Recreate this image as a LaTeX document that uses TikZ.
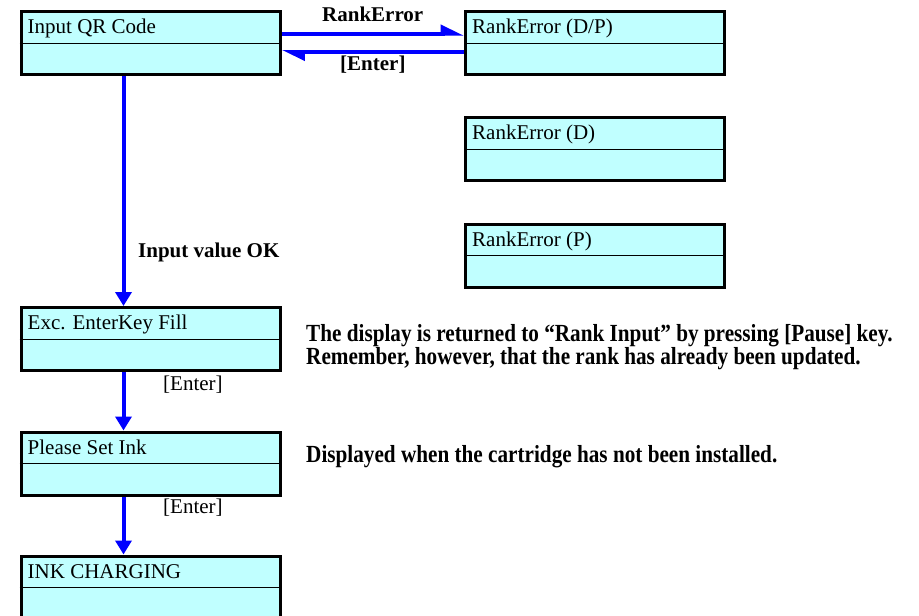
\documentclass[tikz,border=0pt]{standalone}
\usepackage{fontspec}
\setmainfont{Liberation Serif}
\usetikzlibrary{arrows.meta}
\definecolor{screenfill}{RGB}{192,255,255}
\definecolor{arrowblue}{RGB}{0,0,255}
\tikzset{
  screenbox/.style={draw=black, line width=3pt, fill=screenfill, minimum width=259pt, minimum height=63pt, inner sep=0pt, anchor=north west},
  divider/.style={line width=1pt, black},
  boxtext/.style={anchor=base west, inner sep=0pt, font=\fontsize{21}{24.5}\selectfont},
  boldlabel/.style={anchor=base west, inner sep=0pt, align=left, font=\fontsize{21}{24.5}\selectfont\bfseries},
  notetext/.style={anchor=base west, inner sep=0pt, align=left, font=\fontsize{21.2}{23.5}\selectfont\bfseries},
  plainlabel/.style={anchor=base west, inner sep=0pt, font=\fontsize{21}{24.5}\selectfont},
  flow/.style={draw=arrowblue, line width=4pt, -{Triangle[length=14pt,width=16pt,fill=arrowblue]}},
  harp/.style={draw=arrowblue, line width=4pt, -{Triangle[harpoon,length=19pt,width=17pt,fill=arrowblue]}},
}
\newcommand\screenbox[4]{%
  \node[screenbox] (#1) at (#2,#3) {};
  \draw[divider] (#1.west) -- (#1.east);
  \node[boxtext] (#1t) at ([xshift=8pt,yshift=-23.5pt]#1.north west) {#4};
}
\newcommand\tallline[1]{\scalebox{1}[1.16]{#1}}
\begin{document}
\begin{tikzpicture}[x=1pt,y=-1pt]
\useasboundingbox (0,0) rectangle (919,616);
\screenbox{qr}{19.5}{10}{Input QR Code}
\screenbox{dp}{464}{10}{RankError (D/P)}
\screenbox{rd}{464}{116}{RankError (D)}
\screenbox{rp}{464}{222.5}{RankError (P)}
\screenbox{exc}{19.5}{306}{Exc. EnterKey Fill}
\screenbox{ink}{19.5}{430.5}{Please Set Ink}
\screenbox{chg}{19.5}{554.5}{INK CHARGING}

\draw[harp] ([yshift=9.5pt]qr.east) -- ([yshift=9.5pt]dp.west);
\draw[harp] ([yshift=-9pt]dp.west) -- ([yshift=-9pt]qr.east);
\node[boldlabel] (lre) at (322,21.5) {RankError};
\node[boldlabel] (len) at (340,70) {[Enter]};

\draw[flow] ([xshift=-27pt]qr.south) -- ([xshift=-27pt]exc.north);
\draw[flow] ([xshift=-27pt]exc.south) -- ([xshift=-27pt]ink.north);
\draw[flow] ([xshift=-27pt]ink.south) -- ([xshift=-27pt]chg.north);
\node[boldlabel] (lok) at (138,257) {Input value OK};
\node[plainlabel] (le1) at (163,390) {[Enter]};
\node[plainlabel] (le2) at (163,513) {[Enter]};

\node[notetext] (n1) at (306,364.5) {\tallline{The display is returned to “Rank Input” by pressing [Pause] key.}\\\tallline{Remember, however, that the rank has already been updated.}};
\node[notetext] (n2) at (306,462) {\tallline{Displayed when the cartridge has not been installed.}};
\end{tikzpicture}
\end{document}
